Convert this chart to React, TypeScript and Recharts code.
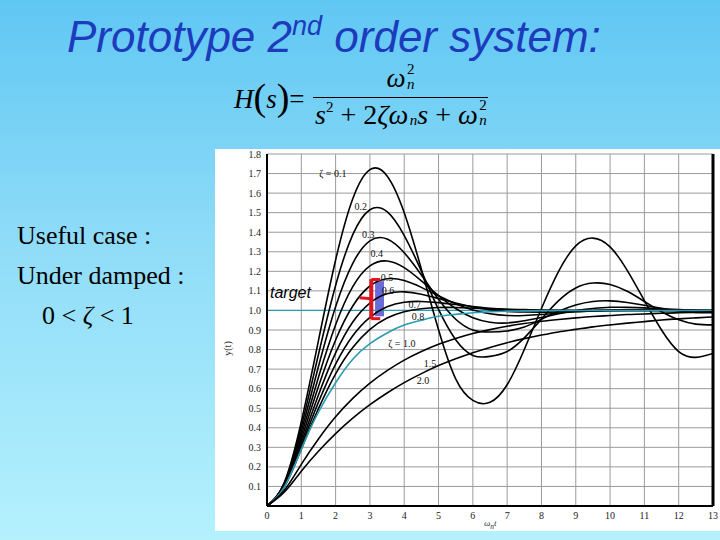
import React from 'react';
import {
  LineChart, Line, XAxis, YAxis, CartesianGrid, ReferenceLine, ReferenceArea, ReferenceDot,
} from 'recharts';

// time axis (omega_n * t)
const TIME = [0, 0.5, 1, 1.5, 2, 2.5, 3, 3.5, 4, 4.5, 5, 5.5, 6, 6.5, 7, 7.5, 8, 8.5, 9, 9.5, 10, 10.5, 11, 11.5, 12, 12.5, 13];

// step responses, one array per damping ratio
const Z01 = [0, 0.118, 0.431, 0.846, 1.258, 1.571, 1.72, 1.688, 1.5, 1.211, 0.901, 0.65, 0.54, 0.53, 0.62, 0.8, 1.01, 1.2, 1.33, 1.37, 1.325, 1.205, 1.05, 0.9, 0.79, 0.76, 0.78];
const Z02 = [0, 0.115, 0.405, 0.775, 1.128, 1.388, 1.515, 1.505, 1.383, 1.201, 1.005, 0.85, 0.77, 0.765, 0.79, 0.86, 0.956, 1.05, 1.115, 1.14, 1.133, 1.098, 1.046, 0.993, 0.952, 0.93, 0.926];
const Z03 = [0, 0.111, 0.381, 0.713, 1.019, 1.241, 1.356, 1.365, 1.295, 1.181, 1.057, 0.955, 0.9, 0.89, 0.895, 0.915, 0.955, 0.996, 1.028, 1.046, 1.049, 1.041, 1.027, 1.011, 0.997, 0.99, 0.988];
const Z04 = [0, 0.108, 0.36, 0.658, 0.927, 1.122, 1.228, 1.253, 1.219, 1.151, 1.076, 1.01, 0.963, 0.94, 0.936, 0.947, 0.964, 0.983, 1.0, 1.01, 1.016, 1.016, 1.013, 1.008, 1.004, 1.0, 0.998];
const Z05 = [0, 0.104, 0.34, 0.611, 0.849, 1.023, 1.125, 1.162, 1.153, 1.118, 1.075, 1.034, 1.002, 0.983, 0.974, 0.974, 0.979, 0.986, 0.993, 0.998, 1.002, 1.004, 1.004, 1.003, 1.002, 1.001, 1.0];
const Z06 = [0, 0.101, 0.322, 0.568, 0.783, 0.941, 1.038, 1.085, 1.095, 1.083, 1.061, 1.038, 1.018, 1.004, 0.995, 0.992, 0.991, 0.992, 0.995, 0.997, 0.999, 1.0, 1.0, 1.0, 1.0, 1.0, 1.0];
const Z07 = [0, 0.098, 0.306, 0.531, 0.726, 0.871, 0.965, 1.019, 1.042, 1.046, 1.04, 1.03, 1.02, 1.011, 1.005, 1.001, 0.999, 0.999, 0.999, 1.0, 1.0, 1.0, 1.0, 1.0, 1.0, 1.0, 1.0];
const Z08 = [0, 0.096, 0.291, 0.498, 0.676, 0.81, 0.903, 0.961, 0.993, 1.009, 1.015, 1.015, 1.012, 1.009, 1.006, 1.004, 1.002, 1.001, 1.0, 1.0, 1.0, 1.0, 1.0, 1.0, 1.0, 1.0, 1.0];
const Z10 = [0, 0.095, 0.29, 0.48, 0.63, 0.75, 0.83, 0.885, 0.925, 0.95, 0.97, 0.98, 0.988, 0.993, 0.996, 0.998, 0.999, 1.0, 1.0, 1.0, 1.0, 1.0, 1.0, 1.0, 1.0, 1.0, 1.0];
const Z15 = [0, 0.079, 0.213, 0.343, 0.456, 0.55, 0.628, 0.692, 0.746, 0.79, 0.827, 0.857, 0.882, 0.902, 0.919, 0.933, 0.945, 0.954, 0.962, 0.969, 0.974, 0.979, 0.982, 0.986, 0.988, 0.99, 0.992];
const Z20 = [0, 0.07, 0.178, 0.28, 0.37, 0.449, 0.518, 0.578, 0.631, 0.677, 0.718, 0.753, 0.784, 0.811, 0.835, 0.856, 0.874, 0.89, 0.903, 0.916, 0.926, 0.935, 0.943, 0.951, 0.957, 0.962, 0.967];

const X_TICKS = [0, 1, 2, 3, 4, 5, 6, 7, 8, 9, 10, 11, 12, 13];
const Y_TICKS = [0, 0.1, 0.2, 0.3, 0.4, 0.5, 0.6, 0.7, 0.8, 0.9, 1.0, 1.1, 1.2, 1.3, 1.4, 1.5, 1.6, 1.7, 1.8];

// curve labels
const LABEL_TEXT = ['ζ = 0.1', '0.2', '0.3', '0.4', '0.5', '0.6', '0.7', '0.8', 'ζ = 1.0', '1.5', '2.0'];
const LABEL_T = [1.92, 2.73, 2.95, 3.2, 3.5, 3.53, 4.31, 4.4, 3.93, 4.75, 4.55];
const LABEL_Y = [1.7, 1.53, 1.39, 1.29, 1.17, 1.1, 1.03, 0.97, 0.83, 0.73, 0.64];

const TEAL = '#2b9cb2';
const series = [
  { key: 'z01', values: Z01, color: '#000' },
  { key: 'z02', values: Z02, color: '#000' },
  { key: 'z03', values: Z03, color: '#000' },
  { key: 'z04', values: Z04, color: '#000' },
  { key: 'z05', values: Z05, color: '#000' },
  { key: 'z06', values: Z06, color: '#000' },
  { key: 'z07', values: Z07, color: '#000' },
  { key: 'z08', values: Z08, color: '#000' },
  { key: 'z10', values: Z10, color: TEAL },
  { key: 'z15', values: Z15, color: '#000' },
  { key: 'z20', values: Z20, color: '#000' },
];

const data = TIME.map((t, i) => {
  const row: Record<string, number> = { t };
  series.forEach(s => { row[s.key] = s.values[i]; });
  return row;
});

const serif = '"Liberation Serif", "Times New Roman", serif';
const sans = '"Liberation Sans", Arial, sans-serif';

// omega_n with optional square, scripts stacked
const Wn = ({ sq }: { sq?: boolean }) => (
  <span style={{ position: 'relative', display: 'inline-block', paddingRight: 9 }}>
    <i>ω</i>
    {sq && <span style={{ position: 'absolute', right: 0, top: -2, fontSize: 15, fontStyle: 'normal', lineHeight: '17px' }}>2</span>}
    <span style={{ position: 'absolute', right: 0, top: 13, fontSize: 15, fontStyle: 'italic', lineHeight: '17px' }}>n</span>
  </span>
);

const Paren = ({ c }: { c: string }) => (
  <span style={{ fontSize: 38, lineHeight: 0, position: 'relative', top: 2 }}>{c}</span>
);

const App: React.FC = () => {
  return (
    <div style={{
      position: 'absolute', left: 0, top: 0, width: 720, height: 540, overflow: 'hidden',
      background: 'linear-gradient(to bottom, #60c7f3 0%, #8fdcf8 45%, #b4f1fd 100%)',
    }}>
      <div style={{ position: 'absolute', left: 67, top: 12, fontFamily: sans, fontStyle: 'italic', fontSize: 44, color: '#1d3bbd', whiteSpace: 'nowrap' }}>
        Prototype 2<span style={{ fontSize: 27, position: 'relative', top: -17 }}>nd</span> order system:
      </div>

      {/* transfer function */}
      <div style={{ position: 'absolute', left: 234, top: 84, fontFamily: serif, fontSize: 27, lineHeight: '31px', whiteSpace: 'nowrap' }}>
        <i>H</i><Paren c="(" /><i>s</i><Paren c=")" />=
      </div>
      <div style={{ position: 'absolute', left: 313, top: 63, width: 175, textAlign: 'center', fontFamily: serif, fontSize: 27, lineHeight: '31px' }}>
        <Wn sq />
      </div>
      <div style={{ position: 'absolute', left: 313, top: 97, width: 175, borderTop: '1.5px solid #000' }} />
      <div style={{ position: 'absolute', left: 315, top: 99, fontFamily: serif, fontSize: 28, lineHeight: '31px', whiteSpace: 'nowrap' }}>
        <i>s</i><span style={{ fontSize: 15, position: 'relative', top: -12, lineHeight: 0 }}>2</span> + 2<i>ζ</i><Wn /><i>s</i> + <Wn sq />
      </div>

      {/* left notes */}
      <div style={{ position: 'absolute', left: 17, top: 216, fontFamily: serif, fontSize: 26, lineHeight: '40px', whiteSpace: 'nowrap' }}>
        <div>Useful case :</div>
        <div>Under damped :</div>
        <div style={{ paddingLeft: 25 }}>0 &lt; <i>ζ</i> &lt; 1</div>
      </div>

      {/* chart panel */}
      <div style={{ position: 'absolute', left: 215, top: 149, width: 505, height: 382, background: '#fff' }}>
        <LineChart width={505} height={382} data={data} margin={{ top: 5, right: 7, bottom: 0, left: 0 }}>
          <CartesianGrid stroke="#9a9a9a" strokeWidth={1} horizontalValues={Y_TICKS} verticalValues={X_TICKS} />
          <XAxis
            dataKey="t" type="number" domain={[0, 13]} ticks={X_TICKS} height={25}
            axisLine={{ stroke: '#000', strokeWidth: 2 }} tickLine={false} tickSize={4}
            tick={{ fontSize: 10, fontFamily: serif, fill: '#222' }} interval={0} allowDataOverflow
          />
          <YAxis
            type="number" domain={[0, 1.8]} ticks={Y_TICKS} width={52}
            axisLine={{ stroke: '#000', strokeWidth: 2 }} tickLine={false} tickSize={4}
            tick={{ fontSize: 10, fontFamily: serif, fill: '#222' }} interval={0}
            tickFormatter={(v: number) => (v === 0 ? '' : v.toFixed(1))} allowDataOverflow
          />
          <ReferenceLine y={1} stroke={TEAL} strokeWidth={1.2} />
          {series.map(s => (
            <Line
              key={s.key} dataKey={s.key} type="natural" stroke={s.color}
              strokeWidth={1.6} dot={false} isAnimationActive={false}
            />
          ))}
          <ReferenceLine x={13} stroke="#000" strokeWidth={3} />
          {LABEL_TEXT.map((txt, i) => (
            <ReferenceDot
              key={txt} x={LABEL_T[i]} y={LABEL_Y[i]} r={0} fill="none" stroke="none"
              label={{ value: txt, position: 'center', fontSize: 10, fontFamily: serif, fill: '#111' }}
            />
          ))}
          {/* target marker */}
          <ReferenceArea x1={3.15} x2={3.41} y1={0.97} y2={1.15} fill="#6b6bd8" fillOpacity={1} stroke="none" />
          <ReferenceLine segment={[{ x: 3.04, y: 0.955 }, { x: 3.04, y: 1.16 }]} stroke="#e0141e" strokeWidth={4} />
          <ReferenceLine segment={[{ x: 3.04, y: 1.158 }, { x: 3.3, y: 1.158 }]} stroke="#e0141e" strokeWidth={3} />
          <ReferenceLine segment={[{ x: 3.04, y: 0.958 }, { x: 3.3, y: 0.958 }]} stroke="#e0141e" strokeWidth={3} />
          <ReferenceLine segment={[{ x: 2.7, y: 1.065 }, { x: 3.04, y: 1.06 }]} stroke="#e0141e" strokeWidth={3} />
        </LineChart>
      </div>

      <div style={{ position: 'absolute', left: 270, top: 284, fontFamily: sans, fontStyle: 'italic', fontSize: 16, color: '#000' }}>target</div>
      <div style={{ position: 'absolute', left: 220, top: 343, fontFamily: serif, fontSize: 10, transform: 'rotate(-90deg)', color: '#333' }}>y(t)</div>
      <div style={{ position: 'absolute', left: 484, top: 518, fontFamily: serif, fontStyle: 'italic', fontSize: 9, color: '#333' }}>ω<sub>n</sub>t</div>
    </div>
  );
};

export default App;
